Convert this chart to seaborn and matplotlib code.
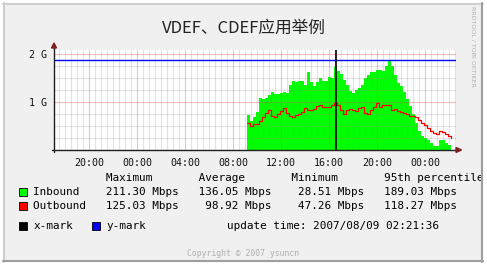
import matplotlib
matplotlib.use("Agg")
import numpy as np
import pandas as pd
import matplotlib.pyplot as plt
import matplotlib.dates as mdates
from matplotlib.patches import Rectangle, Polygon
from matplotlib.lines import Line2D
from matplotlib.ticker import MultipleLocator, FixedLocator
import seaborn as sns

# ---------------- data ----------------
title = "VDEF、CDEF应用举例"
series_names = ["Inbound", "Outbound"]
series_colors = ["#00ff00", "#ff0000"]
mark_names = ["x-mark", "y-mark"]
mark_colors = ["#000000", "#0000ff"]
start_time = "2007-08-08 09:10"
sample_step = "15min"
inbound = [0.735, 0.61, 0.69, 0.79, 1.08, 1.07, 1.08, 1.15, 1.21, 1.17,
           1.16, 1.19, 1.21, 1.19, 1.36, 1.43, 1.42, 1.44, 1.43, 1.36,
           1.62, 1.42, 1.34, 1.42, 1.51, 1.43, 1.43, 1.52, 1.50, 1.73,
           1.65, 1.58, 1.46, 1.35, 1.22, 1.18, 1.24, 1.29, 1.36, 1.50,
           1.56, 1.62, 1.62, 1.67, 1.67, 1.64, 1.74, 1.85, 1.74, 1.56,
           1.39, 1.33, 1.21, 1.07, 0.92, 0.75, 0.56, 0.40, 0.285, 0.24,
           0.21, 0.146, 0.09, 0.09, 0.20, 0.21, 0.146, 0.11, 0.10]
outbound = [0.56, 0.51, 0.54, 0.55, 0.61, 0.69, 0.77, 0.83, 0.715, 0.68,
            0.75, 0.82, 0.875, 0.77, 0.70, 0.69, 0.72, 0.76, 0.79, 0.875,
            0.84, 0.83, 0.85, 0.91, 0.94, 0.90, 0.89, 0.89, 0.94, 0.98,
            0.94, 0.84, 0.76, 0.84, 0.85, 0.83, 0.81, 0.875, 0.89, 0.78,
            0.75, 0.84, 0.89, 0.97, 0.90, 0.94, 0.93, 0.93, 0.83, 0.85,
            0.82, 0.79, 0.77, 0.74, 0.70, 0.70, 0.68, 0.63, 0.57, 0.53,
            0.46, 0.40, 0.354, 0.33, 0.39, 0.375, 0.33, 0.29, 0.25]
x_mark_time = "2007-08-08 16:37"
y_mark_value = 1.87
x_start = "2007-08-07 17:05"
x_end = "2007-08-09 02:35"
y_max = 2.083
y_ticks = [1, 2]
y_tick_labels = ["1 G", "2 G"]
stat_header = ["Maximum", "Average", "Minimum", "95th percentile"]
inbound_stats = ["211.30 Mbps", "136.05 Mbps", "28.51 Mbps", "189.03 Mbps"]
outbound_stats = ["125.03 Mbps", "98.92 Mbps", "47.26 Mbps", "118.27 Mbps"]
update_time = "2007/08/09 02:21:36"
side_text = "RRDTOOL / TOBI OETIKER"
copyright_text = "Copyright © 2007 ysuncn"

# ---------------- figure ----------------
sns.set_theme(style="white")
plt.rcParams["font.family"] = ["DejaVu Sans Mono", "DejaVu Sans"]

W, H = 487, 264
fig = plt.figure(figsize=(W / 100, H / 100), dpi=100, facecolor="white")


def fx(x):
    return x / W


def fy(y):
    return 1 - y / H


# background frame
fig.add_artist(Rectangle((fx(3), fy(262)), fx(480), 259 / H, transform=fig.transFigure,
                         facecolor="#f0f0f0", edgecolor="none", zorder=0))

ax = fig.add_axes([fx(54), fy(150), 402 / W, 100 / H])
ax.set_facecolor("white")

df = pd.DataFrame({
    "time": pd.date_range(start_time, periods=len(inbound), freq=sample_step),
    "Inbound": inbound,
    "Outbound": outbound,
})

ax.fill_between(df["time"], 0, df["Inbound"], step="post", color=series_colors[0],
                lw=0, zorder=2)
sns.lineplot(data=df, x="time", y="Outbound", ax=ax, color=series_colors[1], lw=0.9,
             drawstyle="steps-post", zorder=3)

ax.axhline(y_mark_value, color=mark_colors[1], lw=1.0, zorder=4)
ax.axvline(pd.Timestamp(x_mark_time), color=mark_colors[0], lw=1.2, zorder=4)

ax.set_xlim(pd.Timestamp(x_start), pd.Timestamp(x_end))
ax.set_ylim(0, y_max)

ax.xaxis.set_major_locator(mdates.HourLocator(byhour=range(0, 24, 4)))
ax.xaxis.set_minor_locator(mdates.MinuteLocator(byminute=[0, 30]))
ax.xaxis.set_major_formatter(mdates.DateFormatter("%H:%M"))
ax.yaxis.set_major_locator(FixedLocator(y_ticks))
ax.set_yticklabels(y_tick_labels)
ax.yaxis.set_minor_locator(MultipleLocator(0.25))

ax.set_axisbelow(False)
ax.grid(True, which="minor", color="#8c8c8c", alpha=0.24, lw=0.8)
ax.grid(True, which="major", color="#de4f4f", alpha=0.36, lw=0.8)
ax.set_xlabel("")
ax.set_ylabel("")
for s in ax.spines.values():
    s.set_visible(False)
ax.tick_params(axis="both", which="both", length=0, labelsize=7.2, colors="#111111")
ax.tick_params(axis="x", pad=6)
ax.tick_params(axis="y", pad=5)

# axes lines and arrows (decoration)
axis_col = "#1f1f1f"
arrow_col = "#7f1f1f"
fig.add_artist(Line2D([fx(54), fx(54)], [fy(152), fy(47)], color=axis_col, lw=1.0,
                      transform=fig.transFigure, zorder=5))
fig.add_artist(Line2D([fx(52), fx(457)], [fy(150), fy(150)], color=axis_col, lw=1.0,
                      transform=fig.transFigure, zorder=5))
fig.add_artist(Polygon([[fx(51.5), fy(48)], [fx(56.5), fy(48)], [fx(54), fy(43)]],
                       closed=True, transform=fig.transFigure, color=arrow_col, zorder=6))
fig.add_artist(Polygon([[fx(456), fy(147.5)], [fx(456), fy(152.5)], [fx(461.5), fy(150)]],
                       closed=True, transform=fig.transFigure, color=arrow_col, zorder=6))

# title
fig.text(fx(243.5), fy(28), title, ha="center", va="center", fontsize=12,
         family=["Noto Sans CJK SC", "DejaVu Sans"], color="#222222")

# side text
fig.text(fx(473), fy(46), side_text, rotation=270, ha="center", va="center",
         fontsize=4.5, family=["DejaVu Sans"], color="#b0b0b0")

# legend block
mono = 7.9
x0 = fx(33.3)
header = " " * 11 + "".join(h.ljust(14) for h in stat_header)
fig.text(x0, fy(178.3), header.rstrip(), ha="left", va="center", fontsize=mono, color="#000000")
rows = [(series_names[0], inbound_stats, 191.7), (series_names[1], outbound_stats, 206.3)]
for (name, stats, yy), col in zip(rows, series_colors):
    line = name.ljust(11) + "   ".join(s.rjust(11) for s in stats)
    fig.text(x0, fy(yy), line, ha="left", va="center", fontsize=mono, color="#000000")
    fig.add_artist(Rectangle((fx(19), fy(yy + 4)), 8 / W, 8 / H, transform=fig.transFigure,
                             facecolor=col, edgecolor="#000000", lw=0.6, zorder=6))

fig.add_artist(Rectangle((fx(19), fy(230)), 8 / W, 8 / H, transform=fig.transFigure,
                         facecolor=mark_colors[0], edgecolor="#000000", lw=0.6, zorder=6))
fig.text(x0, fy(226), mark_names[0], ha="left", va="center", fontsize=mono, color="#000000")
fig.add_artist(Rectangle((fx(91.5), fy(230)), 8 / W, 8 / H, transform=fig.transFigure,
                         facecolor=mark_colors[1], edgecolor="#000000", lw=0.6, zorder=6))
fig.text(fx(106), fy(226), mark_names[1], ha="left", va="center", fontsize=mono, color="#000000")
fig.text(fx(226.7), fy(226), "update time: " + update_time, ha="left", va="center",
         fontsize=mono, color="#000000")

fig.text(fx(243), fy(253.7), copyright_text, ha="center", va="center", fontsize=5.9,
         color="#b0b0b0")

# outer border (shade lines) and clipping of overflow
fig.add_artist(Rectangle((fx(481), 0), 6 / W, 1, transform=fig.transFigure,
                         facecolor="white", edgecolor="none", zorder=20))
fig.add_artist(Line2D([fx(3), fx(483)], [fy(4), fy(4)], color="#cfcfcf", lw=1.5,
                      transform=fig.transFigure, zorder=21))
fig.add_artist(Line2D([fx(4), fx(4)], [fy(3), fy(262)], color="#cfcfcf", lw=1.5,
                      transform=fig.transFigure, zorder=21))
fig.add_artist(Line2D([fx(482), fx(482)], [fy(3), fy(262)], color="#9e9e9e", lw=1.5,
                      transform=fig.transFigure, zorder=21))
fig.add_artist(Line2D([fx(3), fx(483)], [fy(261), fy(261)], color="#9e9e9e", lw=1.5,
                      transform=fig.transFigure, zorder=21))

fig.savefig("out.png", dpi=100, facecolor="white")
